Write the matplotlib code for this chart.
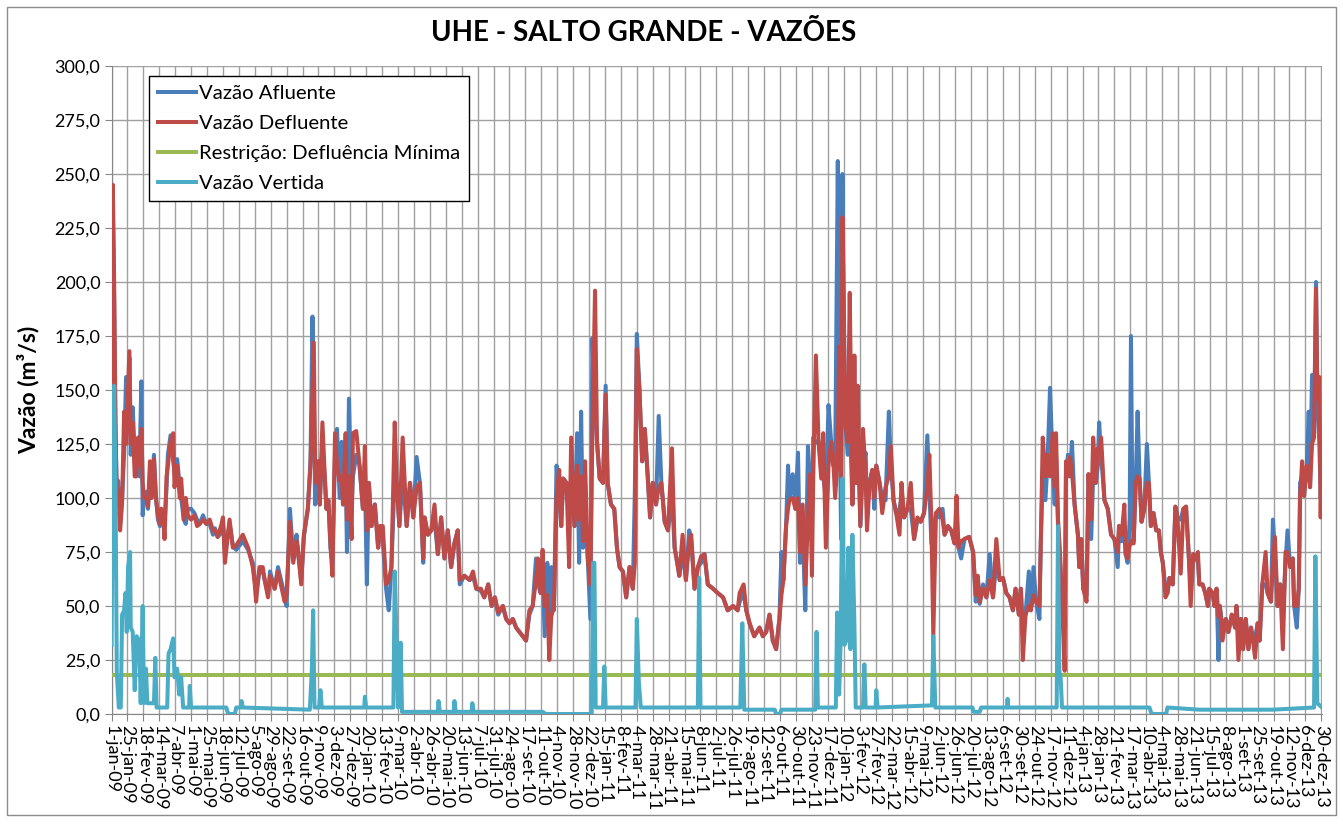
import datetime as dt
import matplotlib
matplotlib.use("Agg")
import matplotlib.pyplot as plt
from matplotlib.patches import Rectangle

# --- dados (dia contado a partir de 1-jan-09) ---
data_inicial = dt.date(2009, 1, 1)

dias_q = [
    0, 2, 4, 6, 8, 10, 13, 16, 19, 22, 25, 27, 29, 32, 35, 37, 40, 42, 45, 47,
    49, 53, 55, 58, 60, 64, 67, 70, 73, 75, 78, 80, 83, 85, 89, 93, 95, 99, 103, 105,
    109, 112, 115, 120, 125, 129, 133, 138, 143, 148, 153, 156, 160, 166, 168, 171, 178, 183, 188, 198,
    206, 213, 216, 218, 223, 228, 231, 236, 239, 246, 251, 261, 264, 269, 274, 279, 281, 286, 290, 296,
    300, 303, 305,
    307, 309, 312, 314, 318, 322, 324, 327, 330, 333, 337, 340, 344, 347, 349, 353, 355, 358, 362, 364,
    369, 374, 379, 382, 385, 388, 392, 397, 402, 405, 409, 414, 418, 422, 427, 430, 434, 439, 445, 450,
    455, 460, 465, 470, 472, 477, 482, 487, 492, 497, 502, 507, 512, 517, 522, 525, 532, 540, 545, 550,
    557, 562, 568, 573, 578, 583, 590, 595, 600, 605, 610, 615, 620, 625, 630, 635, 640, 643, 647, 650,
    653, 657, 660, 663, 667, 671, 675, 678, 681, 686, 690, 693, 698, 702, 705, 708, 711, 714, 718, 722,
    725, 729, 732, 736, 741, 745, 748, 753, 758, 762, 766, 771, 776, 781, 786, 789, 792, 796, 800, 804,
    809, 812, 816, 821, 825, 829, 834, 839, 845, 849, 854, 856, 861, 866, 871, 874, 879, 884, 889, 894,
    899, 907, 914, 922, 929, 937,
    944, 947, 953, 957, 962, 969, 977, 982, 987, 992, 997, 1002, 1007, 1010, 1013, 1017, 1020, 1022, 1027, 1031,
    1035, 1038, 1042, 1046, 1050, 1053, 1056, 1058, 1062, 1066, 1070, 1073, 1077, 1081, 1085, 1088, 1091, 1095, 1097, 1100,
    1102, 1106, 1110, 1113, 1117, 1120, 1123, 1125, 1129, 1133, 1137, 1139, 1143, 1147, 1150, 1153, 1158, 1162, 1167, 1172,
    1175, 1179, 1183, 1188, 1191, 1195, 1200, 1205, 1210, 1215, 1220, 1225, 1230, 1233, 1236, 1239, 1243, 1248, 1253, 1256,
    1261, 1266, 1271, 1274, 1277, 1281, 1286, 1293, 1299, 1303, 1306, 1309, 1314, 1319, 1324, 1329, 1334, 1339, 1344, 1349,
    1354, 1359, 1363, 1368, 1371, 1374, 1378, 1383, 1386, 1390, 1394, 1399, 1401, 1404, 1408, 1411, 1415, 1419, 1422, 1424,
    1427, 1430, 1434, 1437, 1439, 1442, 1445, 1448, 1452, 1457, 1459, 1462, 1465, 1470, 1473, 1477, 1480, 1484, 1487, 1489,
    1492, 1497, 1502, 1507, 1512, 1517, 1519, 1523, 1527, 1529, 1532, 1535, 1537, 1539, 1541, 1544, 1547, 1550, 1553, 1557,
    1561, 1564, 1567, 1571, 1575, 1579, 1582, 1585, 1589, 1592, 1595, 1600, 1604, 1607, 1612, 1616, 1620, 1624, 1627, 1631,
    1635, 1638, 1640, 1645, 1649, 1653, 1655, 1660, 1663, 1666, 1669, 1671, 1675, 1680, 1684, 1689, 1694, 1696, 1699, 1703,
    1706, 1710, 1714, 1718, 1721, 1724, 1728, 1731, 1735, 1740, 1743, 1748, 1751, 1754, 1758, 1762, 1766, 1770, 1773, 1777,
    1781, 1783, 1787, 1790, 1792, 1795, 1798, 1802, 1805, 1807, 1810, 1813, 1816, 1818, 1821, 1823, 1825,
]

vazao_afluente = [
    165, 235, 190, 130, 100, 108, 88, 100, 120, 156, 140, 165, 120, 142, 120, 112, 125, 110, 154, 92,
    100, 103, 95, 110, 100, 120, 100, 90, 87, 95, 90, 88, 105, 120, 129, 117, 112, 118, 105, 100,
    90, 88, 95, 95, 93, 90, 88, 92, 88, 88, 83, 86, 82, 84, 90, 75, 88, 78, 76, 80,
    76, 70, 62, 56, 66, 66, 62, 55, 66, 58, 68, 55, 50, 95, 72, 83, 75, 62, 82, 95,
    117, 184, 150,
    97, 107, 117, 97, 125, 107, 95, 99, 77, 70, 120, 132, 100, 126, 97, 115, 75, 146, 95, 110,
    120, 115, 95, 110, 60, 107, 87, 97, 77, 87, 80, 58, 48, 68, 110, 107, 87, 110, 87, 107,
    91, 119, 107, 70, 91, 83, 85, 90, 74, 91, 72, 85, 68, 79, 85, 60, 64, 62, 64, 58,
    57, 54, 60, 50, 54, 46, 50, 44, 42, 44, 40, 38, 36, 34, 46, 50, 72, 60, 56, 70,
    36, 70, 45, 68, 48, 115, 100, 87, 109, 107, 95, 110, 87, 130, 70, 140, 77, 100, 72, 44,
    174, 140, 126, 109, 107, 152, 107, 97, 95, 77, 68, 66, 54, 68, 58, 103, 176, 150, 117, 132,
    107, 91, 107, 97, 138, 107, 89, 85, 100, 77, 68, 64, 75, 62, 85, 80, 58, 68, 70, 74,
    60, 58, 56, 54, 48, 50,
    48, 52, 56, 48, 42, 36, 40, 36, 38, 46, 34, 30, 44, 75, 62, 87, 115, 99, 111, 95,
    121, 70, 85, 48, 124, 105, 90, 128, 126, 126, 115, 110, 100, 143, 126, 115, 115, 256, 160, 81,
    250, 136, 120, 140, 97, 120, 107, 130, 87, 115, 121, 95, 107, 113, 95, 115, 107, 100, 99, 140,
    115, 99, 93, 95, 100, 91, 95, 95, 81, 90, 89, 93, 129, 105, 79, 85, 93, 91, 95, 83,
    87, 85, 79, 85, 77, 72, 81, 82, 75, 52, 62, 51, 60, 54, 74, 54, 70, 62, 63, 56,
    54, 48, 58, 46, 58, 40, 46, 66, 48, 68, 52, 44, 79, 110, 99, 115, 151, 115, 97, 120,
    87, 70, 45, 40, 110, 120, 110, 126, 97, 83, 68, 81, 58, 55, 111, 81, 110, 107, 115, 135,
    120, 99, 95, 83, 81, 68, 87, 80, 85, 74, 70, 90, 175, 100, 80, 105, 140, 109, 89, 95,
    125, 107, 87, 93, 85, 85, 75, 70, 58, 56, 63, 60, 96, 91, 90, 95, 96, 74, 60, 74,
    72, 70, 60, 60, 56, 50, 58, 56, 50, 58, 25, 50, 40, 44, 38, 46, 40, 50, 40, 44,
    30, 44, 30, 40, 34, 35, 42, 34, 60, 60, 56, 52, 90, 75, 50, 60, 45, 70, 85, 68,
    72, 50, 40, 58, 107, 110, 101, 115, 140, 105, 157, 130, 200, 146, 125, 100, 111,
]

vazao_defluente = [
    122, 245, 200, 135, 100, 104, 85, 98, 140, 125, 150, 168, 125, 135, 110, 110, 128, 115, 132, 107,
    100, 100, 96, 117, 100, 118, 100, 92, 88, 95, 90, 81, 110, 115, 126, 130, 105, 115, 100, 109,
    90, 100, 92, 90, 92, 87, 88, 90, 88, 90, 85, 85, 82, 88, 91, 70, 90, 77, 78, 83,
    77, 68, 60, 52, 68, 68, 62, 54, 64, 58, 66, 52, 55, 89, 70, 80, 77, 60, 83, 95,
    115, 150, 172,
    115, 107, 117, 97, 135, 107, 95, 99, 80, 64, 130, 115, 108, 110, 97, 130, 90, 110, 81, 130,
    131, 115, 95, 124, 85, 107, 87, 97, 77, 87, 87, 60, 62, 68, 135, 107, 87, 128, 87, 107,
    91, 105, 107, 72, 91, 83, 85, 97, 74, 91, 72, 85, 68, 79, 85, 62, 64, 62, 66, 58,
    58, 54, 60, 50, 54, 47, 50, 44, 42, 44, 40, 38, 36, 34, 48, 50, 62, 72, 56, 76,
    50, 55, 25, 45, 50, 100, 113, 87, 109, 107, 68, 128, 87, 115, 90, 110, 80, 117, 72, 60,
    130, 196, 126, 109, 107, 148, 107, 97, 95, 77, 68, 66, 54, 68, 58, 70, 169, 150, 117, 132,
    107, 91, 107, 97, 105, 107, 89, 85, 123, 77, 68, 64, 83, 62, 80, 83, 58, 68, 73, 74,
    60, 58, 56, 54, 48, 50,
    48, 56, 60, 48, 42, 36, 40, 36, 38, 46, 34, 30, 44, 55, 62, 87, 95, 99, 100, 95,
    100, 75, 97, 60, 90, 111, 64, 110, 166, 126, 109, 130, 77, 115, 126, 119, 100, 120, 170, 110,
    230, 136, 126, 195, 97, 166, 107, 152, 87, 132, 110, 85, 107, 113, 100, 115, 107, 93, 105, 110,
    124, 99, 93, 83, 107, 91, 95, 107, 81, 91, 89, 93, 105, 120, 90, 36, 93, 95, 90, 83,
    87, 85, 79, 101, 77, 80, 81, 82, 75, 55, 64, 52, 58, 54, 62, 54, 81, 62, 63, 56,
    54, 48, 58, 46, 58, 25, 46, 50, 48, 55, 52, 50, 79, 128, 110, 120, 110, 130, 105, 130,
    90, 75, 45, 20, 117, 110, 119, 112, 97, 83, 68, 81, 58, 52, 111, 90, 128, 107, 123, 120,
    128, 99, 95, 83, 81, 75, 87, 83, 97, 74, 72, 78, 80, 79, 79, 107, 110, 109, 89, 95,
    107, 107, 87, 93, 85, 85, 75, 70, 54, 56, 63, 60, 96, 91, 65, 95, 96, 74, 50, 74,
    72, 75, 60, 60, 56, 50, 58, 56, 50, 58, 45, 50, 34, 44, 38, 46, 40, 50, 25, 44,
    30, 44, 30, 40, 34, 26, 42, 34, 60, 75, 56, 52, 70, 82, 50, 60, 30, 75, 75, 68,
    72, 50, 50, 58, 100, 117, 101, 115, 112, 105, 125, 128, 197, 146, 156, 91, 125,
]

dias_v = [
    0, 2, 4, 6, 8, 11, 14, 16, 19, 21, 23, 25, 28, 29, 32, 35, 38, 42, 44, 47,
    49, 52, 54, 64, 66, 68, 84, 86, 89, 93, 95, 99, 102, 105, 108, 117, 118, 120, 173, 176,
    186, 188, 195, 196, 198, 299, 302, 304, 306, 313, 315, 317, 381, 382, 384, 425, 427, 430, 432, 436,
    438, 492, 493, 495, 516, 517, 519, 543, 544, 546, 650, 655, 724, 726, 728, 730, 741, 743, 745, 790,
    792, 795, 798, 884, 886, 888, 948, 951, 954, 1000, 1002, 1008, 1010, 1061, 1063, 1065, 1092, 1094, 1097, 1099,
    1102, 1105, 1108, 1111, 1114, 1117, 1120, 1122, 1133, 1135, 1137, 1152, 1153, 1155, 1237, 1239, 1242, 1298, 1300, 1309,
    1311, 1350, 1351, 1352, 1425, 1427, 1429, 1431, 1433, 1565, 1568, 1590, 1592, 1640, 1750, 1813, 1815, 1818, 1825,
]

vazao_vertida = [
    32, 110, 152, 107, 19, 3, 3, 46, 48, 56, 38, 68, 75, 40, 38, 11, 36, 34, 5, 50,
    5, 21, 5, 5, 26, 3, 3, 28, 30, 35, 17, 21, 9, 17, 3, 3, 13, 3, 3, 0,
    0, 3, 3, 6, 3, 2, 20, 48, 3, 3, 11, 3, 3, 8, 3, 3, 66, 32, 3, 33,
    1, 1, 6, 1, 1, 6, 1, 1, 5, 1, 1, 0, 0, 70, 70, 3, 3, 22, 3, 3,
    44, 15, 3, 3, 63, 3, 3, 42, 2, 2, 0, 0, 2, 2, 38, 3, 3, 47, 9, 30,
    109, 32, 34, 77, 30, 83, 42, 3, 3, 23, 3, 3, 11, 3, 4, 36, 3, 3, 1, 1,
    3, 3, 7, 3, 3, 87, 20, 17, 3, 3, 0, 0, 3, 2, 2, 3, 73, 5, 3,
]

defluencia_minima = 18.0
ultimo_dia = 1825

assert len(dias_q) == len(vazao_afluente) == len(vazao_defluente)
assert len(dias_v) == len(vazao_vertida)

# --- rótulos do eixo x: a cada 24 dias ---
meses = ["jan", "fev", "mar", "abr", "mai", "jun", "jul", "ago", "set", "out", "nov", "dez"]
dias_tick = list(range(0, ultimo_dia, 24))
rotulos_x = []
for d in dias_tick:
    data = data_inicial + dt.timedelta(days=d)
    rotulos_x.append(f"{data.day}-{meses[data.month - 1]}-{data.strftime('%y')}")

# ==========================================================
# gráfico
# ==========================================================
plt.rcParams["font.family"] = ["Lato", "DejaVu Sans"]

W, H = 1343, 825
fig = plt.figure(figsize=(W / 100, H / 100), dpi=100)
ax = fig.add_axes([111.5 / W, 1 - 714 / H, (1322 - 111.5) / W, (714 - 66) / H])

lw = 2.9
ax.plot(dias_q, vazao_afluente, color="#4A7EBB", lw=lw, label="Vazão Afluente", zorder=3)
ax.plot(dias_q, vazao_defluente, color="#BE4B48", lw=lw, label="Vazão Defluente", zorder=4)
ax.plot([0, ultimo_dia], [defluencia_minima, defluencia_minima], color="#98B954", lw=lw,
        label="Restrição: Defluência Mínima", zorder=5)
ax.plot(dias_v, vazao_vertida, color="#4BACC6", lw=lw, label="Vazão Vertida", zorder=6)

ax.set_xlim(0, ultimo_dia)
ax.set_ylim(0, 300)
ax.set_yticks(range(0, 301, 25))
ax.set_yticklabels([f"{v:.1f}".replace(".", ",") for v in range(0, 301, 25)], fontsize=13)
ax.set_xticks(dias_tick)
ax.set_xticklabels(rotulos_x, rotation=270, ha="center", va="top", fontsize=13)

ax.grid(True, color="#A0A0A0", lw=1.0)
ax.set_axisbelow(True)
for lado in ["top", "right"]:
    ax.spines[lado].set_visible(False)
for lado in ["left", "bottom"]:
    ax.spines[lado].set_color("#868686")
ax.tick_params(direction="out", length=5, color="#868686", pad=3)

ax.set_title("UHE - SALTO GRANDE - VAZÕES", fontsize=20, fontweight="bold", pad=18, x=0.44)
fig.text(28 / W, 1 - 390 / H, "Vazão (m³/s)", rotation=90, ha="center", va="center",
         fontsize=16.5, fontweight="bold")

leg = ax.legend(loc="upper left", bbox_to_anchor=(149 / W, 1 - 76 / H), bbox_transform=fig.transFigure,
                fontsize=14.6, frameon=True, fancybox=False, framealpha=1, edgecolor="black",
                handlelength=1.85, handletextpad=0.15, labelspacing=0.62, borderpad=0.45,
                borderaxespad=0)
leg.get_frame().set_linewidth(1.0)

# moldura externa do gráfico
fig.patches.append(Rectangle((7 / W, 1 - 815 / H), (1336 - 7) / W, (815 - 7) / H,
                             transform=fig.transFigure, fill=False, ec="#8C8C8C", lw=1.0))

fig.savefig("out.png", dpi=100)
